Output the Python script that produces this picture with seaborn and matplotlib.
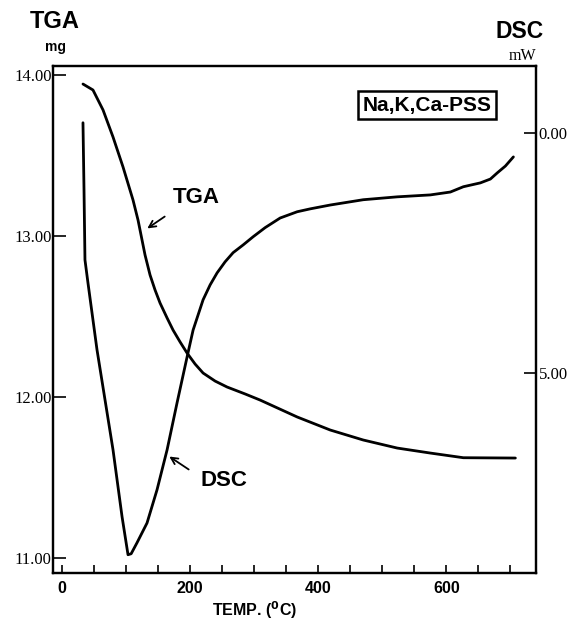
import matplotlib
matplotlib.use("Agg")
import matplotlib.pyplot as plt
import seaborn as sns
import pandas as pd
from matplotlib.ticker import FixedLocator, FuncFormatter

sns.set_theme(style="ticks")
plt.rcParams['font.family'] = ['Liberation Sans', 'DejaVu Sans']
plt.rcParams.update({"text.color": "black", "axes.labelcolor": "black",
                     "xtick.color": "black", "ytick.color": "black",
                     "axes.edgecolor": "black"})

# ---- data ----
tga_temp = [32.8, 48.4, 64.1, 79.7, 95.3, 110.9, 118.75, 125.0, 129.7, 137.5, 145.3, 153.1,
            164.1, 173.4, 184.4, 195.3, 207.8, 220.3, 239.1, 257.8, 285.9, 309.4, 367.2,
            418.8, 470.3, 523.4, 575.0, 626.6, 707.8]
tga_mass = [13.944, 13.907, 13.783, 13.615, 13.429, 13.224, 13.099, 12.975, 12.882, 12.758,
            12.665, 12.584, 12.491, 12.416, 12.342, 12.273, 12.205, 12.149, 12.099, 12.062,
            12.019, 11.981, 11.876, 11.795, 11.733, 11.683, 11.652, 11.623, 11.621]

dsc_temp = [32.8, 34.4, 35.9, 40.6, 54.7, 67.2, 79.7, 93.8, 103.1, 108.0, 117.2, 132.8, 148.4,
            164.1, 179.7, 195.3, 204.7, 220.3, 231.3, 242.2, 254.7, 267.2, 282.8, 298.4,
            317.2, 340.6, 367.2, 387.5, 418.8, 470.3, 523.4, 575.0, 606.3, 626.6, 653.1,
            668.8, 679.7, 692.2, 704.7]
dsc_flow = [-0.21, 1.18, 2.64, 3.12, 4.51, 5.55, 6.59, 7.98, 8.77, 8.75, 8.52, 8.11, 7.42,
            6.59, 5.61, 4.66, 4.10, 3.47, 3.16, 2.91, 2.68, 2.49, 2.33, 2.16,
            1.97, 1.77, 1.64, 1.58, 1.50, 1.39, 1.33, 1.29, 1.23, 1.12, 1.04,
            0.96, 0.83, 0.69, 0.50]

x_ticks = [0, 200, 400, 600]
x_minor = [0, 50, 100, 150, 200, 250, 300, 350, 400, 450, 500, 550, 600, 650, 700]
tga_ticks = [11.0, 12.0, 13.0, 14.0]
dsc_ticks = [0.0, 5.0]

tga_df = pd.DataFrame({"temp": tga_temp, "mass": tga_mass})
dsc_df = pd.DataFrame({"temp": dsc_temp, "flow": dsc_flow})

fig = plt.figure(figsize=(5.75, 6.21), dpi=100)
ax = fig.add_axes([53/575, 1-573/621, (536-53)/575, (573-66)/621])
ax2 = ax.twinx()

sns.lineplot(data=tga_df, x="temp", y="mass", ax=ax, color="black", linewidth=2.0,
             sort=False, estimator=None)
sns.lineplot(data=dsc_df, x="temp", y="flow", ax=ax2, color="black", linewidth=2.0,
             sort=False, estimator=None)
for a in (ax, ax2):
    for ln in a.get_lines():
        ln.set_solid_joinstyle("round")
        ln.set_solid_capstyle("round")

ax.set_xlim(-14, 740)
ax.set_ylim(10.907, 14.056)
ax2.set_ylim(9.15, -1.39)

for a in (ax, ax2):
    a.set_xlabel("")
    a.set_ylabel("")
    for s in a.spines.values():
        s.set_linewidth(1.6)
        s.set_color("black")
        s.set_visible(True)

serif = ['Liberation Serif', 'DejaVu Serif']

ax.xaxis.set_major_locator(FixedLocator(x_minor))
ax.set_xticklabels([str(v) if v in x_ticks else "" for v in x_minor],
                   fontsize=11.5, fontweight="bold", color="black")
ax.tick_params(axis="x", direction="in", length=6, width=1.2, pad=6, colors="black")

ax.yaxis.set_major_locator(FixedLocator(tga_ticks))
ax.yaxis.set_major_formatter(FuncFormatter(lambda v, p: f"{v:.2f}"))
ax.tick_params(axis="y", direction="in", length=9, width=1.2, pad=1, colors="black")
for t in ax.get_yticklabels():
    t.set_family(serif)
    t.set_fontsize(12)

ax2.yaxis.set_major_locator(FixedLocator(dsc_ticks))
ax2.yaxis.set_major_formatter(FuncFormatter(lambda v, p: f"{v:.2f}"))
ax2.tick_params(axis="y", direction="in", length=9, width=1.2, pad=2, colors="black")
for t in ax2.get_yticklabels():
    t.set_family(serif)
    t.set_fontsize(12)

# axis titles
fig.text(55/575, 1-22/621, "TGA", ha="center", va="center", fontsize=17, fontweight="bold")
fig.text(55/575, 1-47/621, "mg", ha="center", va="center", fontsize=10, fontweight="bold")
fig.text(520/575, 1-32/621, "DSC", ha="center", va="center", fontsize=16.5, fontweight="bold")
fig.text(522/575, 1-56/621, "mW", ha="center", va="center", fontsize=11.5, family=serif)
fig.text(255/575, 1-610/621, r"TEMP. ($^{\mathbf{0}}$C)", ha="center", va="center",
         fontsize=11.5, fontweight="bold")

# sample label box
fig.text(427/575, 1-105/621, "Na,K,Ca-PSS", ha="center", va="center", fontsize=15,
         fontweight="bold",
         bbox=dict(boxstyle="square,pad=0.2", facecolor="white", edgecolor="black", linewidth=1.8))

# curve annotations
def px(xp, yp):
    return (xp/575, 1-yp/621)

ax.annotate("", xy=px(145, 230), xycoords="figure fraction",
            xytext=px(167, 215), textcoords="figure fraction",
            arrowprops=dict(arrowstyle="->", color="black", lw=1.3))
fig.text(196/575, 1-197/621, "TGA", ha="center", va="center", fontsize=16, fontweight="bold")
ax.annotate("", xy=px(167, 455), xycoords="figure fraction",
            xytext=px(191, 471), textcoords="figure fraction",
            arrowprops=dict(arrowstyle="->", color="black", lw=1.3))
fig.text(224/575, 1-480/621, "DSC", ha="center", va="center", fontsize=16, fontweight="bold")

fig.savefig("out.png", dpi=100)
